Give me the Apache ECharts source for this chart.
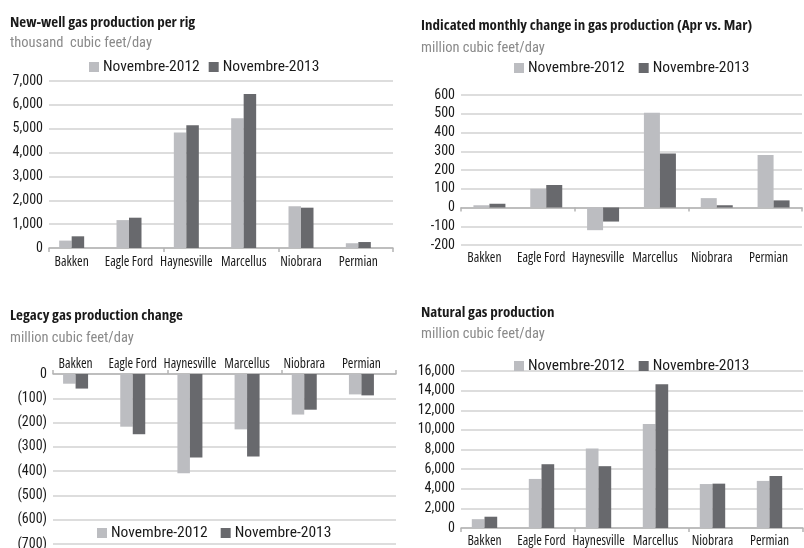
<!DOCTYPE html>
<html>
<head>
<meta charset="utf-8">
<script src="https://cdn.jsdelivr.net/npm/echarts@6/dist/echarts.min.js"></script>
<style>
html,body{margin:0;padding:0;background:#fff;}
#main{width:804px;height:548px;}
</style>
</head>
<body>
<div id="main"></div>
<script>
// ---- data ----
var categories = ['Bakken', 'Eagle Ford', 'Haynesville', 'Marcellus', 'Niobrara', 'Permian'];
var seriesNames = ['Novembre-2012', 'Novembre-2013'];

var newWell2012 = [310, 1170, 4840, 5440, 1750, 200];
var newWell2013 = [490, 1270, 5150, 6460, 1690, 250];

var monthly2012 = [12, 100, -121, 505, 50, 280];
var monthly2013 = [20, 120, -75, 288, 12, 38];

var legacy2012 = [-40, -217, -409, -228, -167, -84];
var legacy2013 = [-60, -248, -344, -340, -147, -88];

var natGas2012 = [900, 5000, 8100, 10600, 4480, 4800];
var natGas2013 = [1150, 6500, 6300, 14650, 4520, 5300];

var titles = ['New-well gas production per rig', 'Indicated monthly change in gas production (Apr vs. Mar)',
              'Legacy gas production change', 'Natural gas production'];
var subtitles = ['thousand  cubic feet/day', 'million cubic feet/day', 'million cubic feet/day', 'million cubic feet/day'];

// ---- styling ----
var FONT = "'Roboto Condensed', Roboto, sans-serif";
var NFONT = "'Open Sans', 'Roboto Condensed', sans-serif";
var LIGHT = '#bcbdc1';
var DARK = '#68696d';
var GRIDC = '#d2d2d2';
var AXISC = '#b4b4b4';

function commaFmt(v) { return v.toLocaleString('en-US'); }
function parenFmt(v) { return v === 0 ? '0' : '(' + Math.abs(v) + ')'; }

var panels = [
  { frame: {left: 49, top: 81, width: 344, height: 167}, shift: -6, min: 0, max: 7000, interval: 1000, fmt: commaFmt,
    d1: newWell2012, d2: newWell2013, barW: 12.5, pos: 'bottom', labelMargin: 7, labelPad: [0,0,0,0] },
  { frame: {left: 461, top: 95, width: 341, height: 150}, shift: 0, min: -200, max: 600, interval: 100, fmt: commaFmt,
    d1: monthly2012, d2: monthly2013, barW: 16, pos: 'bottom', labelMargin: 6, labelPad: [0,10,0,0] },
  { frame: {left: 53, top: 374, width: 343, height: 170}, shift: -6, min: -700, max: 0, interval: 100, fmt: parenFmt,
    d1: legacy2012, d2: legacy2013, barW: 12.5, pos: 'top', labelMargin: 3, labelPad: [0,0,0,0] },
  { frame: {left: 461, top: 371, width: 342, height: 157}, shift: -5, min: 0, max: 16000, interval: 2000, fmt: commaFmt,
    d1: natGas2012, d2: natGas2013, barW: 12.7, pos: 'bottom', labelMargin: 6, labelPad: [0,0,0,0] }
];

var titlePos = [
  {x: 10, y: 15, sy: 36},
  {x: 421, y: 18, sy: 41},
  {x: 10, y: 308, sy: 331},
  {x: 421, y: 305, sy: 327}
];
var legendPos = [
  {x: 89, y: 68, gap: 9},
  {x: 514, y: 69, gap: 14},
  {x: 97, y: 534, gap: 13},
  {x: 514, y: 367, gap: 14}
];

var grid = [], xAxis = [], yAxis = [], series = [], title = [], legend = [];

panels.forEach(function (p, i) {
  var f = p.frame;
  grid.push({left: f.left, top: f.top, width: f.width, height: f.height, outerBoundsMode: 'none', containLabel: false});
  grid.push({left: f.left + p.shift, top: f.top, width: f.width, height: f.height, outerBoundsMode: 'none', containLabel: false});
  var gf = 2 * i, gb = 2 * i + 1;

  xAxis.push({
    type: 'category', gridIndex: gf, data: categories, position: p.pos, boundaryGap: true,
    axisLine: {show: true, onZero: true, lineStyle: {color: AXISC, width: 1.5}},
    axisTick: {show: true, length: 4, inside: false, lineStyle: {color: AXISC, width: 1.5}},
    axisLabel: {show: false}, splitLine: {show: false}
  });
  yAxis.push({
    type: 'value', gridIndex: gf, min: p.min, max: p.max, interval: p.interval,
    axisLine: {show: false}, axisTick: {show: false},
    splitLine: {show: true, lineStyle: {color: GRIDC, width: 1.5}},
    axisLabel: {show: true, formatter: p.fmt, color: '#1a1a1a', fontFamily: FONT, fontSize: 14, margin: 6}
  });
  xAxis.push({
    type: 'category', gridIndex: gb, data: categories, position: p.pos, boundaryGap: true,
    axisLine: {show: false, onZero: false}, axisTick: {show: false}, splitLine: {show: false},
    axisLabel: {show: true, color: '#1a1a1a', fontFamily: NFONT, fontStyle: 'normal condensed', fontSize: 13.5,
      margin: p.labelMargin, padding: p.labelPad, interval: 0}
  });
  yAxis.push({
    type: 'value', gridIndex: gb, min: p.min, max: p.max, interval: p.interval, show: false,
    splitLine: {show: false}
  });

  series.push({
    type: 'bar', name: seriesNames[0], xAxisIndex: gb, yAxisIndex: gb, data: p.d1,
    barWidth: p.barW, barGap: '0%', itemStyle: {color: LIGHT}, animation: false
  });
  series.push({
    type: 'bar', name: seriesNames[1], xAxisIndex: gb, yAxisIndex: gb, data: p.d2,
    barWidth: p.barW, barGap: '0%', itemStyle: {color: DARK}, animation: false
  });

  var t = titlePos[i];
  title.push({text: titles[i], left: t.x, top: t.y, padding: 0,
    textStyle: {fontFamily: NFONT, fontStyle: 'normal condensed', fontSize: 15, fontWeight: 'bold', color: '#1a1a1a'}});
  title.push({text: subtitles[i], left: t.x, top: t.sy, padding: 0,
    textStyle: {fontFamily: FONT, fontSize: 14.5, fontWeight: 'normal', color: '#8a8a8a'}});

  var lp = legendPos[i];
  legend.push({
    data: seriesNames, left: lp.x, top: lp.y - 9, padding: 0, itemGap: lp.gap,
    itemWidth: 10, itemHeight: 10, icon: 'rect', selectedMode: false,
    textStyle: {fontFamily: FONT, fontSize: 15.5, color: '#1a1a1a', padding: [0, 0, 0, -1]}
  });
});

var chart = echarts.init(document.getElementById('main'), null, {renderer: 'canvas'});
chart.setOption({
  backgroundColor: '#fff',
  animation: false,
  title: title,
  legend: legend,
  grid: grid,
  xAxis: xAxis,
  yAxis: yAxis,
  series: series
});
</script>
</body>
</html>
